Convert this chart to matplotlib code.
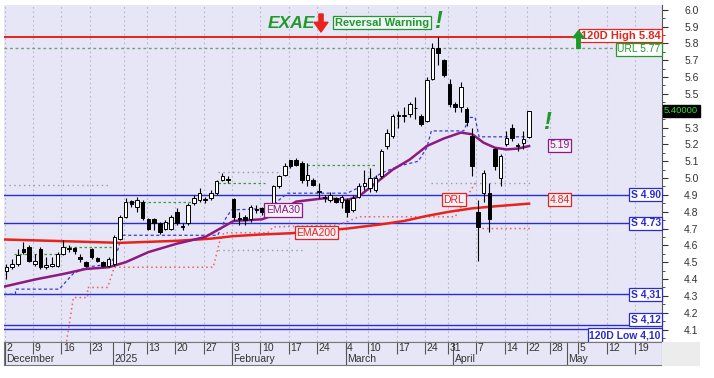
import numpy as np
import pandas as pd
import matplotlib
matplotlib.use("Agg")
import matplotlib.pyplot as plt
from matplotlib.ticker import MultipleLocator, FuncFormatter

plt.rcParams['font.family'] = ['Liberation Sans', 'DejaVu Sans']

# Athens trading calendar shown on the chart (future part is plain business days)
HOLIDAYS = ["2024-12-25", "2024-12-26", "2024-12-31", "2025-01-01", "2025-01-06",
            "2025-03-03", "2025-03-25", "2025-04-18", "2025-04-21"]
days = pd.bdate_range("2024-12-02", "2025-05-23")
days = days[~days.isin(pd.to_datetime(HOLIDAYS))]

# OHLC, 2 Dec 2024 .. 22 Apr 2025
opens = [4.45, 4.47, 4.49, 4.58, 4.59, 4.49, 4.58, 4.47, 4.48, 4.48,
         4.55, 4.58, 4.585, 4.53, 4.50, 4.58, 4.525, 4.50, 4.48, 4.49,
         4.64, 4.77, 4.865, 4.83, 4.86, 4.755, 4.755, 4.73, 4.70, 4.70,
         4.80, 4.715, 4.73, 4.85, 4.87, 4.875, 4.88, 4.91, 4.99, 4.995,
         4.875, 4.76, 4.77, 4.755, 4.81, 4.82, 4.80, 4.83, 4.95, 5.02,
         5.11, 5.11, 5.09, 4.99, 4.99, 4.92, 4.885, 4.87, 4.88, 4.86,
         4.87, 4.81, 4.89, 4.95, 4.94, 4.93, 5.01, 5.19, 5.25, 5.37,
         5.37, 5.38, 5.415, 5.37, 5.34, 5.59, 5.77, 5.70, 5.56, 5.44,
         5.42, 5.41, 5.25, 4.80, 4.91, 4.91, 5.17, 5.00, 5.20, 5.30,
         5.195, 5.21, 5.245]
highs = [4.49, 4.52, 4.58, 4.62, 4.60, 4.55, 4.59, 4.53, 4.53, 4.56,
         4.63, 4.60, 4.59, 4.55, 4.51, 4.585, 4.53, 4.51, 4.53, 4.66,
         4.78, 4.88, 4.87, 4.89, 4.87, 4.76, 4.76, 4.74, 4.75, 4.78,
         4.82, 4.73, 4.85, 4.90, 4.94, 4.89, 4.93, 4.99, 5.03, 5.01,
         4.88, 4.80, 4.78, 4.84, 4.84, 4.83, 4.84, 4.96, 5.02, 5.09,
         5.11, 5.12, 5.10, 5.09, 5.00, 4.97, 4.90, 4.92, 4.89, 4.90,
         4.88, 4.90, 4.97, 5.05, 5.06, 5.02, 5.17, 5.29, 5.38, 5.40,
         5.42, 5.45, 5.48, 5.38, 5.60, 5.80, 5.84, 5.71, 5.59, 5.45,
         5.57, 5.42, 5.30, 4.87, 5.05, 4.97, 5.18, 5.14, 5.28, 5.32,
         5.21, 5.28, 5.40]
lows = [4.40, 4.46, 4.48, 4.55, 4.50, 4.48, 4.46, 4.46, 4.47, 4.47,
        4.54, 4.56, 4.55, 4.50, 4.47, 4.52, 4.50, 4.47, 4.47, 4.48,
        4.63, 4.76, 4.83, 4.80, 4.75, 4.69, 4.69, 4.67, 4.69, 4.69,
        4.72, 4.69, 4.72, 4.84, 4.86, 4.85, 4.87, 4.90, 4.98, 4.97,
        4.75, 4.72, 4.72, 4.74, 4.79, 4.78, 4.79, 4.82, 4.94, 5.01,
        5.06, 5.07, 4.97, 4.95, 4.95, 4.88, 4.86, 4.86, 4.85, 4.82,
        4.77, 4.80, 4.88, 4.93, 4.92, 4.92, 5.00, 5.17, 5.24, 5.30,
        5.33, 5.36, 5.35, 5.31, 5.33, 5.58, 5.67, 5.60, 5.42, 5.39,
        5.39, 5.31, 5.01, 4.51, 4.86, 4.68, 5.05, 4.95, 5.19, 5.22,
        5.16, 5.17, 5.24]
closes = [4.47, 4.49, 4.54, 4.56, 4.51, 4.51, 4.47, 4.485, 4.49, 4.55,
          4.59, 4.585, 4.565, 4.52, 4.475, 4.53, 4.51, 4.475, 4.52, 4.65,
          4.77, 4.86, 4.845, 4.87, 4.76, 4.70, 4.735, 4.68, 4.74, 4.77,
          4.73, 4.71, 4.84, 4.88, 4.91, 4.87, 4.91, 4.98, 5.01, 4.99,
          4.77, 4.755, 4.75, 4.83, 4.815, 4.80, 4.83, 4.95, 5.01, 5.07,
          5.07, 5.08, 4.99, 5.02, 4.96, 4.925, 4.88, 4.90, 4.86, 4.89,
          4.80, 4.88, 4.95, 4.97, 5.00, 5.00, 5.16, 5.27, 5.37, 5.37,
          5.375, 5.44, 5.415, 5.32, 5.58, 5.77, 5.74, 5.61, 5.44, 5.42,
          5.54, 5.33, 5.07, 4.71, 5.03, 4.755, 5.07, 5.13, 5.24, 5.235,
          5.19, 5.23, 5.40]

# moving averages, (day index, value) read at points along the curves
ema30_x = [-0.42, 5, 10, 14, 18, 21, 25, 30, 35, 40, 45, 47, 51, 56, 60, 62,
           65, 68, 71, 74, 77, 80, 82, 84, 86, 88, 90, 92]
ema30_y = [4.355, 4.397, 4.43, 4.46, 4.47, 4.50, 4.56, 4.61, 4.65, 4.745, 4.755,
           4.78, 4.86, 4.88, 4.87, 4.89, 4.97, 5.05, 5.11, 5.19, 5.235, 5.27,
           5.26, 5.21, 5.18, 5.17, 5.175, 5.19]
ema200_x = [-0.42, 10, 20, 30, 36, 40, 45, 50, 55, 60, 66, 70, 74, 78, 82, 86, 92]
ema200_y = [4.635, 4.625, 4.615, 4.627, 4.64, 4.655, 4.665, 4.672, 4.685, 4.70,
            4.725, 4.745, 4.775, 4.80, 4.82, 4.832, 4.848]

# stop / channel lines
trail_x = [-0.42, 1.6, 1.6, 9.3, 11.7, 14, 18.3, 19.5, 20.3, 37.2, 38.6, 39.6,
           46.5, 48, 49.5, 60, 63, 66, 69, 72.5, 74, 74.8, 80.5, 81.5, 82.5,
           83.2, 92.5]
trail_y = [4.31, 4.31, 4.34, 4.34, 4.43, 4.47, 4.49, 4.56, 4.66, 4.66, 4.76, 4.81,
           4.82, 4.87, 4.91, 4.91, 4.96, 5.03, 5.07, 5.10, 5.18, 5.28, 5.28, 5.36,
           5.36, 5.245, 5.245]
drl_x = [10.6, 11.8, 14.3, 14.3, 17.8, 19.0, 36.4, 37.6, 38.3, 46.0, 47.0, 58.0,
         60.0, 62.0, 79.0, 82.5, np.nan, 83.8, 92.5]
drl_y = [4.03, 4.29, 4.29, 4.35, 4.35, 4.47, 4.47, 4.63, 4.675, 4.675, 4.71, 4.72,
         4.74, 4.77, 4.77, 4.97, np.nan, 4.70, 4.70]
green_levels = [(1.3, 9.6, 4.55), (10.1, 18.4, 4.59), (21.4, 32.5, 4.86),
                (37.3, 45.5, 4.97), (52.0, 64.8, 5.08)]
grey_levels = [(-0.42, 18.4, 4.956), (37.3, 48.0, 5.035), (37.3, 52.0, 4.57),
               (74.8, 92.5, 4.97)]

supports = [4.90, 4.73, 4.31, 4.125, 4.105]
support_labels = ["S 4.90", "S 4.73", "S 4,31", "S 4,12", "120D Low 4,10"]
high_120 = 5.84
url_level = 5.77
last_price = 5.40

BG = "#e6e6f6"
GREEN = "#1f9a2a"
RED = "#e8231c"
BLUE = "#2b2bd6"
PURPLE = "#8c1a80"

fig = plt.figure(figsize=(7.14, 3.78), dpi=100)
fig.patch.set_facecolor("white")
ax = fig.add_axes([4 / 714, 1 - 342 / 378, 658 / 714, 337 / 378])
ax.set_facecolor(BG)

x = np.arange(len(closes))
o = np.array(opens); c = np.array(closes)
xmin, xmax = -0.42, 115.4
ax.set_xlim(xmin, xmax)
ax.set_ylim(4.026, 6.028)

# week / month separators (the week holding the new year is not marked)
week_start = [i for i in range(len(days)) if i == 0 or days[i].isocalendar()[1] != days[i - 1].isocalendar()[1]]
week_start = [i for i in week_start if not (days[i].month == 12 and days[i].day > 28)]
month_start = [i for i in range(len(days)) if i == 0 or days[i].month != days[i - 1].month]
sep = np.array(week_start) - 0.3
ax.vlines(sep, 4.0, 6.1, colors="#b8b8cc", linestyles=(0, (1.5, 2.5)), lw=0.8, zorder=0)

# levels
ax.axhline(high_120, color=RED, lw=1.4, zorder=2)
ax.axhline(url_level, color="#7c9c7c", lw=1.0, ls=(0, (2, 2)), zorder=1)
for lv in supports:
    ax.axhline(lv, color=BLUE, lw=1.0, zorder=1)

for x0, x1, lv in green_levels:
    ax.plot([x0, x1], [lv, lv], color="#3c9a3c", lw=0.9, ls=(0, (2, 2)), zorder=1)
for x0, x1, lv in grey_levels:
    ax.plot([x0, x1], [lv, lv], color="#9a9aac", lw=1.0, ls=(0, (1, 2.5)), zorder=1)
ax.plot(trail_x, trail_y, color="#3a3ad8", lw=0.9, ls=(0, (2.5, 2)), zorder=1)
ax.plot(drl_x, drl_y, color="#f06060", lw=1.1, ls=(0, (1, 2)), zorder=1)

ax.plot(ema200_x, ema200_y, color=RED, lw=1.8, zorder=2)
ax.plot(ema30_x, ema30_y, color=PURPLE, lw=1.8, zorder=2)

# candles
ax.vlines(x, lows, highs, colors="black", lw=0.8, zorder=3)
body_h = np.maximum(np.abs(c - o), 0.004)
faces = ["white" if cc >= oo else "black" for oo, cc in zip(opens, closes)]
ax.bar(x, body_h, bottom=np.minimum(o, c), width=0.62, color=faces,
       edgecolor="black", linewidth=0.7, zorder=4)

# axis look; the last-price box sits where the 5.4 label would be
ax.yaxis.tick_right()
ax.yaxis.set_major_locator(MultipleLocator(0.1))
ax.yaxis.set_minor_locator(MultipleLocator(0.05))
ax.yaxis.set_major_formatter(FuncFormatter(
    lambda v, p: "" if abs(v - last_price) < 0.01 else f"{v:.1f}"))
ax.tick_params(axis="y", which="major", length=4, pad=12, labelsize=7.5,
               colors="#333333", direction="out")
ax.tick_params(axis="y", which="minor", length=2, colors="#333333")
ax.set_xticks([])
for s in ["top", "left"]:
    ax.spines[s].set_visible(False)
ax.spines["right"].set_color("#555555")
ax.spines["bottom"].set_color("#555555")

# labels on the levels
ytr = ax.get_yaxis_transform()
def level_label(txt, y, color, va="center", bold=False, fs=7.5):
    ax.text(0.998, y, txt, transform=ytr, ha="right", va=va, color=color,
            fontsize=fs, fontweight="bold" if bold else "normal", zorder=6,
            bbox=dict(boxstyle="square,pad=0.15", fc="white", ec=color, lw=0.9))

level_label("120D High 5.84", high_120 + 0.005, RED, bold=True, fs=8)
level_label("URL 5.77", url_level - 0.005, GREEN)
level_label(support_labels[0], supports[0], BLUE, bold=True)
level_label(support_labels[1], supports[1], BLUE, bold=True)
level_label(support_labels[2], supports[2], BLUE, bold=True)
level_label(support_labels[3], supports[3] + 0.006, BLUE, va="bottom", bold=True)
level_label(support_labels[4], supports[4] - 0.008, BLUE, va="top", bold=True)

def box(txt, xi, y, color):
    ax.text(xi, y, txt, ha="left", va="center", color=color, fontsize=7.5, zorder=6,
            bbox=dict(boxstyle="square,pad=0.15", fc="#f4f0f8", ec=color, lw=0.9))

box("EMA30", 45.7, 4.81, PURPLE)
box("EMA200", 51.0, 4.675, RED)
box("DRL", 76.9, 4.87, RED)
box("4.84", 95.6, 4.87, RED)
box("5.19", 95.6, 5.195, PURPLE)

ax.text(1.003, last_price, "5.40000", transform=ytr, ha="left", va="center",
        color="#30e030", fontsize=6.8, zorder=6, clip_on=False,
        bbox=dict(boxstyle="square,pad=0.15", fc="black", ec="black"))

# signals
ax.text(76.0, 5.93, "!", color=GREEN, fontsize=17, fontweight="bold",
        fontstyle="italic", ha="center", va="center", zorder=6)
ax.text(95.2, 5.33, "!", color=GREEN, fontsize=17, fontweight="bold",
        fontstyle="italic", ha="center", va="center", zorder=6)
ax.annotate("", xy=(100.7, 5.875), xytext=(100.7, 5.77),
            arrowprops=dict(facecolor=GREEN, edgecolor=GREEN, width=2.5,
                            headwidth=8, headlength=5), zorder=6)

# header
fig.text(268 / 714, 1 - 23 / 378, "EXAE", color=GREEN, fontsize=12.5,
         fontweight="bold", fontstyle="italic", ha="left", va="center")
ax.annotate("", xy=(321 / 714, 1 - 32 / 378), xytext=(321 / 714, 1 - 14 / 378),
            xycoords="figure fraction", textcoords="figure fraction",
            arrowprops=dict(facecolor=RED, edgecolor=RED, width=3,
                            headwidth=10, headlength=7))
fig.text(335 / 714, 1 - 22.5 / 378, "Reversal Warning", color=GREEN, fontsize=8,
         fontweight="bold", ha="left", va="center",
         bbox=dict(boxstyle="square,pad=0.15", fc="#f4f4fb", ec=GREEN, lw=0.9))

# date strip
axd = fig.add_axes([4 / 714, 1 - 365 / 378, 658 / 714, 23 / 378])
axd.set_facecolor(BG)
axd.set_xlim(xmin, xmax)
axd.set_ylim(0, 1)
axd.set_xticks([]); axd.set_yticks([])
for s in axd.spines.values():
    s.set_color("#777777")
    s.set_linewidth(0.8)
axd.vlines(sep, 0.5, 1, colors="#555555", lw=0.8)
for i in week_start:
    axd.text(i - 0.05, 0.74, str(days[i].day), ha="left", va="center",
             fontsize=7.5, color="#333333")
month_names = {12: "December", 1: "2025", 2: "February", 3: "March", 4: "April", 5: "May"}
for i in month_start:
    axd.vlines(i - 0.3, 0, 1, colors="#555555", lw=0.8)
    axd.text(i - 0.05, 0.25, month_names[days[i].month], ha="left", va="center",
             fontsize=7.5, color="#333333")

fig.patches.append(plt.Rectangle((662 / 714, 1 - 366 / 378), 38 / 714, 24 / 378,
                                 transform=fig.transFigure, fc="#ececec", ec="none"))

fig.savefig("out.png", dpi=100)
